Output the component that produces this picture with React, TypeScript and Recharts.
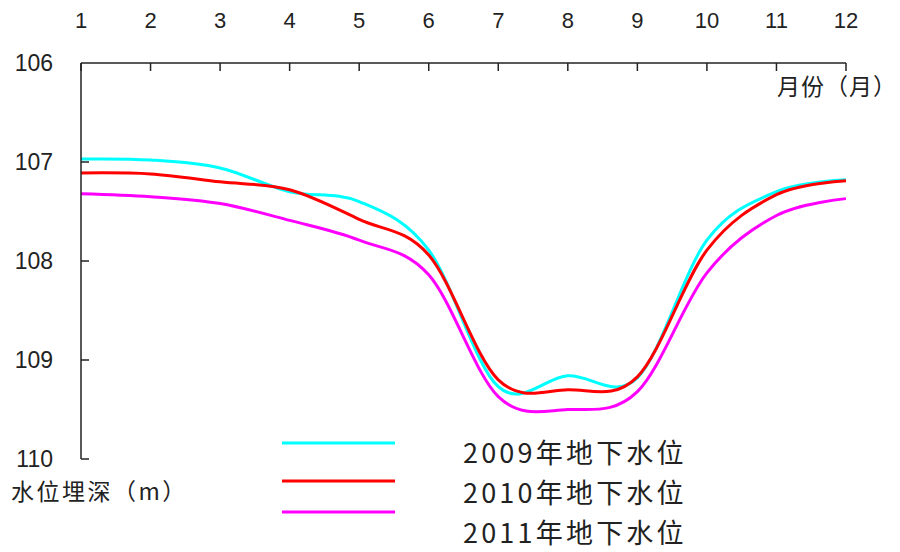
import React from 'react';
import { LineChart, Line, XAxis, YAxis, Legend } from 'recharts';

const months = [1, 2, 3, 4, 5, 6, 7, 8, 9, 10, 11, 12];
const level2009 = [106.97, 106.98, 107.06, 107.3, 107.4, 107.89, 109.27, 109.16, 109.18, 107.79, 107.3, 107.18];
const level2010 = [107.11, 107.12, 107.2, 107.28, 107.58, 107.94, 109.2, 109.3, 109.17, 107.89, 107.33, 107.19];
const level2011 = [107.32, 107.35, 107.42, 107.59, 107.79, 108.14, 109.37, 109.5, 109.32, 108.12, 107.54, 107.37];

const monthTicks = [1, 2, 3, 4, 5, 6, 7, 8, 9, 10, 11, 12];
const depthTicks = [106, 107, 108, 109, 110];

const seriesNames = ['2009年地下水位', '2010年地下水位', '2011年地下水位'];
const seriesColors = ['#00FFFF', '#FF0000', '#FF00FF'];
const xAxisTitle = '月份（月）';
const yAxisTitle = '水位埋深（m）';

const data = months.map((m, i) => ({
  month: m,
  y2009: level2009[i],
  y2010: level2010[i],
  y2011: level2011[i],
}));

// Catmull-Rom style smoothing (cardinal spline, tension 0), like a spreadsheet "smoothed line"
const smoothCurve = (context: any) => {
  const k = 1 / 6;
  let x0 = NaN, x1 = NaN, x2 = NaN, y0 = NaN, y1 = NaN, y2 = NaN;
  let pt = 0;
  let lineFlag: number = NaN;
  const seg = (x: number, y: number) => {
    context.bezierCurveTo(
      x1 + k * (x2 - x0),
      y1 + k * (y2 - y0),
      x2 + k * (x1 - x),
      y2 + k * (y1 - y),
      x2,
      y2
    );
  };
  return {
    areaStart() { lineFlag = 0; },
    areaEnd() { lineFlag = NaN; },
    lineStart() {
      x0 = x1 = x2 = y0 = y1 = y2 = NaN;
      pt = 0;
    },
    lineEnd() {
      if (pt === 2) context.lineTo(x2, y2);
      else if (pt === 3) seg(x1, y1);
      if (lineFlag || (lineFlag !== 0 && pt === 1)) context.closePath();
      lineFlag = 1 - lineFlag;
    },
    point(xIn: number, yIn: number) {
      const x = +xIn, y = +yIn;
      if (pt === 0) {
        pt = 1;
        lineFlag ? context.lineTo(x, y) : context.moveTo(x, y);
      } else if (pt === 1) {
        pt = 2;
        x1 = x; y1 = y;
      } else {
        pt = 3;
        seg(x, y);
      }
      x0 = x1; x1 = x2; x2 = x;
      y0 = y1; y1 = y2; y2 = y;
    },
  };
};

const AXIS_COLOR = '#222';
const TICK_FONT = '"Liberation Sans", "DejaVu Sans", sans-serif';
const CJK_FONT = '"Noto Sans CJK SC", sans-serif';
const X_TICK_MARGIN = 35;
const Y_TICK_MARGIN = 28;
const TICK_LEN = 8;

const XTick = (props: any) => {
  const { x, y, payload } = props;
  const lineY = y + X_TICK_MARGIN;
  return (
    <g>
      <line x1={x} y1={lineY} x2={x} y2={lineY + TICK_LEN} stroke={AXIS_COLOR} strokeWidth={1.5} />
      <text x={x} y={y} textAnchor="middle" fontSize={22} fontFamily={TICK_FONT} fill="#222">
        {payload.value}
      </text>
    </g>
  );
};

const YTick = (props: any) => {
  const { x, y, payload } = props;
  const lineX = x + Y_TICK_MARGIN;
  return (
    <g>
      {payload.value !== 106 && (
        <line x1={lineX} y1={y} x2={lineX + TICK_LEN} y2={y} stroke={AXIS_COLOR} strokeWidth={1.5} />
      )}
      <text x={x} y={y + 8} textAnchor="end" fontSize={23} fontFamily={TICK_FONT} fill="#222">
        {payload.value}
      </text>
    </g>
  );
};

const rowLineY = [15, 53, 84];
const rowTextY = [25, 65, 105];

const LegendContent = (props: any) => {
  const payload = props.payload || [];
  return (
    <svg width={420} height={125} style={{ display: 'block', overflow: 'visible' }}>
      {payload.map((entry: any, i: number) => (
        <g key={entry.value}>
          <line x1={0} y1={rowLineY[i]} x2={113} y2={rowLineY[i]} stroke={entry.color} strokeWidth={3} />
          <text
            x={181}
            y={rowTextY[i] + 10}
            fontSize={27}
            fontFamily={CJK_FONT}
            letterSpacing={3.2}
            fill="#222"
          >
            {entry.value}
          </text>
        </g>
      ))}
    </svg>
  );
};

export default function App() {
  return (
    <div style={{ position: 'absolute', left: 0, top: 0, width: 900, height: 552, background: '#fff' }}>
      <LineChart width={900} height={552} data={data} margin={{ top: 0, right: 54, bottom: 93, left: 0 }}>
        <XAxis
          dataKey="month"
          type="number"
          orientation="top"
          domain={[1, 12]}
          ticks={monthTicks}
          height={63}
          tickSize={0}
          tickMargin={X_TICK_MARGIN}
          tickLine={false}
          axisLine={{ stroke: AXIS_COLOR, strokeWidth: 1.5 }}
          tick={<XTick />}
          interval={0}
        />
        <YAxis
          type="number"
          domain={[106, 110]}
          reversed
          ticks={depthTicks}
          width={81}
          tickSize={0}
          tickMargin={Y_TICK_MARGIN}
          tickLine={false}
          axisLine={{ stroke: AXIS_COLOR, strokeWidth: 1.5 }}
          tick={<YTick />}
          interval={0}
        />
        <Legend
          layout="vertical"
          align="center"
          verticalAlign="middle"
          content={<LegendContent />}
          wrapperStyle={{ left: 282, top: 428, width: 420, height: 125 }}
        />
        <Line type={smoothCurve as any} dataKey="y2009" name={seriesNames[0]} stroke={seriesColors[0]} strokeWidth={3} dot={false} activeDot={false} isAnimationActive={false} />
        <Line type={smoothCurve as any} dataKey="y2010" name={seriesNames[1]} stroke={seriesColors[1]} strokeWidth={3} dot={false} activeDot={false} isAnimationActive={false} />
        <Line type={smoothCurve as any} dataKey="y2011" name={seriesNames[2]} stroke={seriesColors[2]} strokeWidth={3} dot={false} activeDot={false} isAnimationActive={false} />
      </LineChart>
      <div style={{ position: 'absolute', left: 777, top: 72, width: 122, fontSize: 23, lineHeight: '26px', fontFamily: CJK_FONT, color: '#222', whiteSpace: 'nowrap', letterSpacing: 1 }}>
        {xAxisTitle}
      </div>
      <div style={{ position: 'absolute', left: 11, top: 477, fontSize: 23, lineHeight: '26px', fontFamily: CJK_FONT, color: '#222', whiteSpace: 'nowrap', letterSpacing: 2.5 }}>
        {yAxisTitle}
      </div>
    </div>
  );
}
